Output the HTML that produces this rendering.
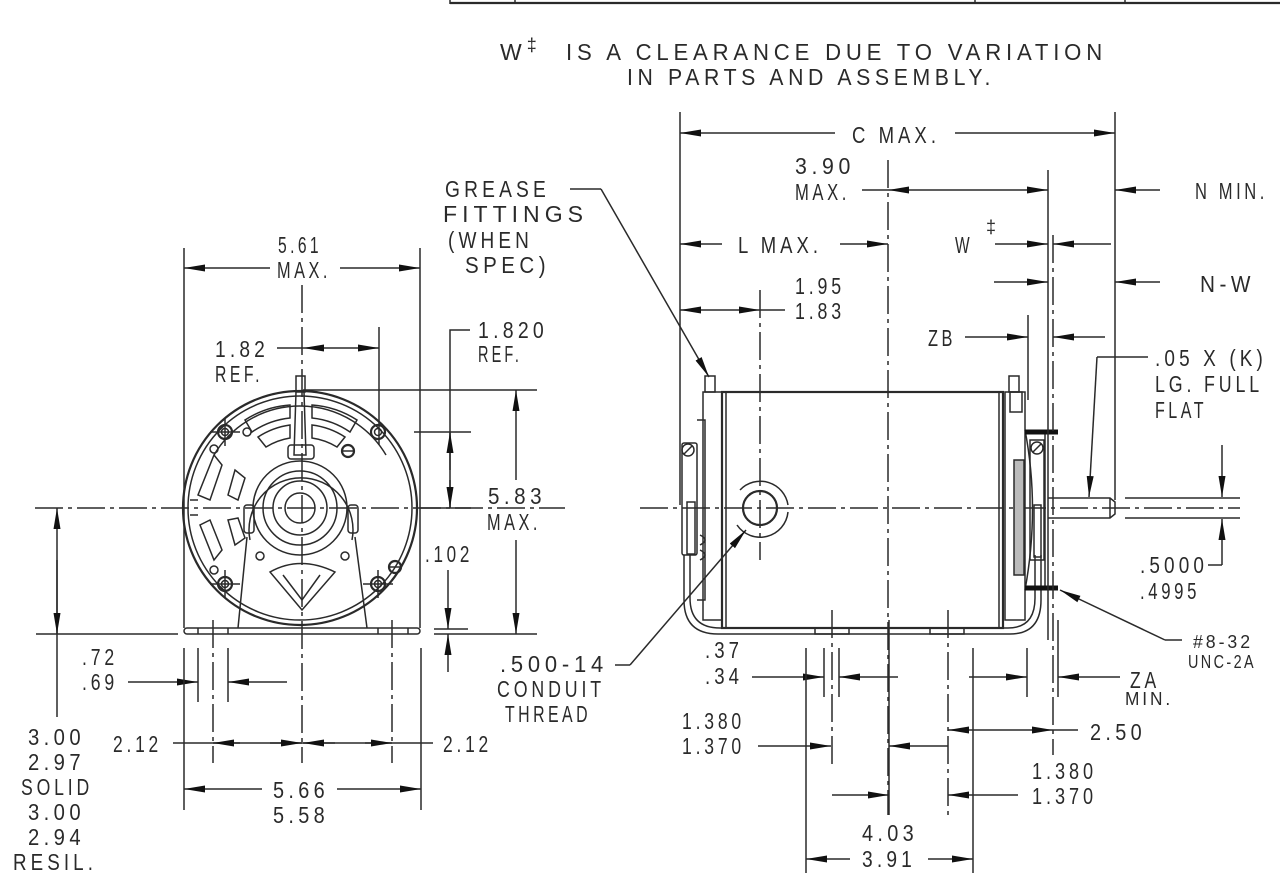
<!DOCTYPE html>
<html><head><meta charset="utf-8"><style>
html,body{margin:0;padding:0;background:#fff;}
svg{display:block;}
text{font-family:"Liberation Sans",sans-serif;font-size:23px;fill:#2a2a2a;letter-spacing:5px;}
.s{font-size:18px;letter-spacing:3px;}
line,path,rect,circle,polyline,ellipse{stroke:#2a2a2a;stroke-width:1.5;fill:none;}
.a{marker-end:url(#m);}
.b{marker-start:url(#ms);marker-end:url(#m);}
.c{stroke-dasharray:28 5 4 5;}
.t{stroke-width:2.2;}
.k{stroke-width:5;stroke:#111;}
</style></head><body>
<svg width="1280" height="873" viewBox="0 0 1280 873" xmlns="http://www.w3.org/2000/svg">
<defs>
<marker id="m" markerWidth="22" markerHeight="8" refX="21" refY="4" orient="auto" markerUnits="userSpaceOnUse"><path d="M0,0.5 L21,4 L0,7.5z" style="fill:#111;stroke:none"/></marker>
<marker id="ms" markerWidth="22" markerHeight="8" refX="21" refY="4" orient="auto-start-reverse" markerUnits="userSpaceOnUse"><path d="M0,0.5 L21,4 L0,7.5z" style="fill:#111;stroke:none"/></marker>
</defs>

<line x1="450" y1="3" x2="1280" y2="3" class="t"/>
<line x1="450" y1="0" x2="450" y2="4"/><line x1="515" y1="0" x2="515" y2="4"/>
<line x1="975" y1="0" x2="975" y2="4"/><line x1="1125" y1="0" x2="1125" y2="4"/>

<text x="500" y="60">W<tspan class="s" dy="-9">‡</tspan></text>
<text x="566" y="60" textLength="541" lengthAdjust="spacingAndGlyphs">IS A CLEARANCE DUE TO VARIATION</text>
<text x="627" y="85" textLength="368" lengthAdjust="spacingAndGlyphs">IN PARTS AND ASSEMBLY.</text>

<!-- FRONT VIEW -->
<line x1="35" y1="508" x2="565" y2="508" class="c"/>
<line x1="302" y1="285" x2="302" y2="763" class="c"/>
<circle cx="300" cy="508" r="117" class="t"/>
<circle cx="300" cy="508" r="112"/>
<path d="M214,455 A100,100 0 0 1 386,455"/>
<path d="M245,420 A95,95 0 0 1 290,405 L290,418 A82,82 0 0 0 252,432 Z"/>
<path d="M312,405 A95,95 0 0 1 357,420 L350,432 A82,82 0 0 0 312,418 Z"/>
<path d="M258,437 A78,78 0 0 1 290,425 L290,438 A66,66 0 0 0 266,447 Z"/>
<path d="M312,425 A78,78 0 0 1 345,437 L337,447 A66,66 0 0 0 312,438 Z"/>
<path d="M214,455 L222,465 L210,500 L198,495 Z"/>
<path d="M210,520 L222,550 L214,560 L200,525 Z"/>
<path d="M235,470 L245,478 L238,500 L228,495 Z"/>
<path d="M228,520 L238,518 L245,538 L235,545 Z"/>
<line x1="190" y1="500" x2="198" y2="500"/><line x1="190" y1="515" x2="198" y2="515"/>
<path d="M238,628 L247,537 M367,628 L355,537"/>
<path d="M250,540 A52,52 0 1 1 352,540"/>
<rect x="244" y="505" width="10" height="28" rx="3"/><rect x="348" y="505" width="10" height="28" rx="3"/>
<rect x="184" y="628" width="236" height="6" rx="3"/>
<line x1="198" y1="628" x2="198" y2="634"/><line x1="228" y1="628" x2="228" y2="634"/>
<line x1="378" y1="628" x2="378" y2="634"/><line x1="408" y1="628" x2="408" y2="634"/>
<circle cx="300" cy="508" r="15"/><circle cx="300" cy="508" r="27"/><circle cx="300" cy="508" r="37"/><circle cx="300" cy="508" r="47"/>
<rect x="296" y="376" width="9" height="16"/>
<path d="M296,392 L294,455 L306,455 L304,392"/>
<rect x="288" y="445" width="26" height="14" rx="3"/>
<path d="M270,572 Q300,555 335,572 L302,610 Z"/>
<path d="M283,575 L302,600 L320,575"/>
<circle cx="260" cy="556" r="4"/><circle cx="345" cy="556" r="4"/>
<g>
<circle cx="225" cy="432" r="7" class="t"/><circle cx="225" cy="432" r="3.5"/>
<circle cx="378" cy="432" r="7" class="t"/><circle cx="378" cy="432" r="3.5"/>
<circle cx="225" cy="584" r="7" class="t"/><circle cx="225" cy="584" r="3.5"/>
<circle cx="378" cy="584" r="7" class="t"/><circle cx="378" cy="584" r="3.5"/>
<circle cx="348" cy="451" r="6" class="t"/><line x1="342" y1="451" x2="354" y2="451"/>
<circle cx="395" cy="567" r="6" class="t"/><line x1="389" y1="567" x2="401" y2="567"/>
<circle cx="247" cy="432" r="4"/><circle cx="214" cy="449" r="4"/><circle cx="214" cy="570" r="4"/>
<line x1="210" y1="432" x2="240" y2="432"/><line x1="225" y1="418" x2="225" y2="446"/>
<line x1="210" y1="584" x2="240" y2="584"/><line x1="225" y1="570" x2="225" y2="598"/>
<line x1="363" y1="584" x2="393" y2="584"/><line x1="378" y1="570" x2="378" y2="598"/>
</g>

<line x1="184" y1="248" x2="184" y2="628"/><line x1="420" y1="248" x2="420" y2="628"/>
<line x1="270" y1="268" x2="184" y2="268" class="a"/><line x1="340" y1="268" x2="420" y2="268" class="a"/>
<text x="278" y="253" textLength="44" lengthAdjust="spacingAndGlyphs">5.61</text>
<text x="277" y="278" textLength="54" lengthAdjust="spacingAndGlyphs">MAX.</text>

<text x="215" y="357" textLength="54" lengthAdjust="spacingAndGlyphs">1.82</text>
<text x="215" y="382" textLength="48" lengthAdjust="spacingAndGlyphs">REF.</text>
<line x1="277" y1="348" x2="303" y2="348"/>
<line x1="303" y1="348" x2="379" y2="348" class="b"/>
<line x1="379" y1="327" x2="379" y2="445"/>

<text x="478" y="338" textLength="70" lengthAdjust="spacingAndGlyphs">1.820</text>
<text x="478" y="362" textLength="44" lengthAdjust="spacingAndGlyphs">REF.</text>
<polyline points="470,330 450,330 450,508"/>
<line x1="450" y1="470" x2="450" y2="432" class="a"/>
<line x1="450" y1="480" x2="450" y2="508" class="a"/>
<line x1="414" y1="432" x2="471" y2="432"/>
<line x1="303" y1="390" x2="537" y2="390"/>
<line x1="420" y1="508" x2="471" y2="508"/>

<line x1="516" y1="480" x2="516" y2="390" class="a"/>
<line x1="516" y1="540" x2="516" y2="634" class="a"/>
<text x="488" y="504" textLength="58" lengthAdjust="spacingAndGlyphs">5.83</text>
<text x="487" y="530" textLength="54" lengthAdjust="spacingAndGlyphs">MAX.</text>

<line x1="434" y1="634" x2="537" y2="634"/><line x1="434" y1="629" x2="468" y2="629"/>
<text x="425" y="562" textLength="48" lengthAdjust="spacingAndGlyphs">.102</text>
<line x1="448" y1="570" x2="448" y2="629" class="a"/>
<line x1="448" y1="672" x2="448" y2="634" class="a"/>

<line x1="36" y1="634" x2="178" y2="634"/>
<line x1="57" y1="717" x2="57" y2="508" class="a"/>
<line x1="57" y1="560" x2="57" y2="634" class="a"/>
<text x="28" y="745" textLength="57" lengthAdjust="spacingAndGlyphs">3.00</text>
<text x="28" y="770" textLength="57" lengthAdjust="spacingAndGlyphs">2.97</text>
<text x="21" y="795" textLength="72" lengthAdjust="spacingAndGlyphs">SOLID</text>
<text x="28" y="820" textLength="57" lengthAdjust="spacingAndGlyphs">3.00</text>
<text x="28" y="845" textLength="57" lengthAdjust="spacingAndGlyphs">2.94</text>
<text x="13" y="870" textLength="84" lengthAdjust="spacingAndGlyphs">RESIL.</text>

<text x="82" y="665" textLength="36" lengthAdjust="spacingAndGlyphs">.72</text>
<text x="82" y="690" textLength="36" lengthAdjust="spacingAndGlyphs">.69</text>
<line x1="128" y1="682" x2="198" y2="682" class="a"/>
<line x1="287" y1="682" x2="228" y2="682" class="a"/>
<line x1="198" y1="648" x2="198" y2="702"/><line x1="228" y1="648" x2="228" y2="702"/>
<line x1="184" y1="648" x2="184" y2="810"/><line x1="421" y1="648" x2="421" y2="810"/>
<line x1="213" y1="620" x2="213" y2="763" class="c"/><line x1="392" y1="620" x2="392" y2="763" class="c"/>

<text x="113" y="752" textLength="49" lengthAdjust="spacingAndGlyphs">2.12</text>
<text x="443" y="752" textLength="49" lengthAdjust="spacingAndGlyphs">2.12</text>
<line x1="173" y1="743" x2="433" y2="743"/>
<line x1="240" y1="743" x2="213" y2="743" class="a"/>
<line x1="270" y1="743" x2="302" y2="743" class="a"/>
<line x1="335" y1="743" x2="303" y2="743" class="a"/>
<line x1="365" y1="743" x2="392" y2="743" class="a"/>

<line x1="262" y1="789" x2="184" y2="789" class="a"/>
<line x1="337" y1="789" x2="421" y2="789" class="a"/>
<text x="273" y="798" textLength="56" lengthAdjust="spacingAndGlyphs">5.66</text>
<text x="273" y="823" textLength="56" lengthAdjust="spacingAndGlyphs">5.58</text>

<text x="445" y="197" textLength="105" lengthAdjust="spacingAndGlyphs">GREASE</text>
<text x="443" y="222" textLength="145" lengthAdjust="spacingAndGlyphs">FITTINGS</text>
<text x="448" y="248" textLength="85" lengthAdjust="spacingAndGlyphs">(WHEN</text>
<text x="465" y="273" textLength="85" lengthAdjust="spacingAndGlyphs">SPEC)</text>
<polyline points="570,189 601,189"/>
<line x1="601" y1="189" x2="709" y2="377" class="a"/>

<!-- SIDE VIEW -->
<line x1="640" y1="508" x2="1240" y2="508" class="c"/>
<line x1="888" y1="160" x2="888" y2="815" class="c"/>
<rect x="722" y="392" width="281" height="236" class="t"/>
<line x1="726" y1="392" x2="726" y2="628"/><line x1="999" y1="392" x2="999" y2="628"/>
<rect x="703" y="392" width="19" height="228"/>
<rect x="705" y="376" width="10" height="16"/>
<rect x="1005" y="392" width="20" height="228"/>
<rect x="1009" y="376" width="10" height="16"/>
<rect x="1010" y="392" width="12" height="20"/>
<rect x="682" y="443" width="15" height="112" rx="2"/>
<circle cx="688" cy="450" r="6"/><line x1="684" y1="454" x2="692" y2="446"/>
<rect x="687" y="502" width="8" height="52"/>
<path d="M697,420 L705,420 L705,600 L697,600"/>
<path d="M700,535 q10,5 0,10 M700,550 q10,5 0,10"/>
<path d="M684,555 L684,600 Q684,634 718,634 L1010,634 Q1041,634 1041,600 L1041,555"/>
<path d="M690,555 L690,598 Q690,628 720,628 L1008,628 Q1035,628 1035,598 L1035,555"/>
<rect x="815" y="628" width="34" height="6"/><rect x="930" y="628" width="34" height="6"/>
<rect x="1014" y="460" width="10" height="115" style="fill:#bbb"/>
<path d="M1025,430 Q1040,508 1025,590 M1045,430 L1045,590"/>
<rect x="1030" y="440" width="14" height="120"/>
<circle cx="1037" cy="448" r="6"/><line x1="1033" y1="452" x2="1041" y2="444"/>
<rect x="1034" y="505" width="7" height="52"/>
<line x1="1025" y1="432" x2="1058" y2="432" class="k"/>
<line x1="1025" y1="588" x2="1058" y2="588" class="k"/>
<path d="M1048,498 L1110,498 L1115,502 L1115,514 L1110,518 L1048,518"/>
<line x1="1110" y1="498" x2="1110" y2="518"/>
<line x1="1125" y1="498" x2="1240" y2="498"/><line x1="1125" y1="518" x2="1240" y2="518"/>
<circle cx="760" cy="508" r="17" class="t"/>
<path d="M740,490 A28,28 0 0 1 788,505 M788,512 A28,28 0 0 1 737,525"/>
<path d="M748,496 A17,17 0 0 1 772,496 M772,520 A17,17 0 0 1 750,522"/>
<line x1="760" y1="290" x2="760" y2="560" class="c"/>

<line x1="680" y1="112" x2="680" y2="505"/>
<line x1="1115" y1="112" x2="1115" y2="500"/>
<line x1="835" y1="133" x2="680" y2="133" class="a"/>
<line x1="955" y1="133" x2="1115" y2="133" class="a"/>
<text x="852" y="143" textLength="88" lengthAdjust="spacingAndGlyphs">C MAX.</text>

<text x="795" y="174" textLength="60" lengthAdjust="spacingAndGlyphs">3.90</text>
<text x="795" y="200" textLength="55" lengthAdjust="spacingAndGlyphs">MAX.</text>
<line x1="862" y1="190" x2="888" y2="190"/>
<line x1="888" y1="190" x2="1048" y2="190" class="b"/>
<line x1="1048" y1="170" x2="1048" y2="640"/>
<line x1="1160" y1="190" x2="1115" y2="190" class="a"/>
<text x="1195" y="199" textLength="73" lengthAdjust="spacingAndGlyphs">N MIN.</text>

<line x1="722" y1="244" x2="680" y2="244" class="a"/>
<line x1="840" y1="244" x2="888" y2="244" class="a"/>
<text x="738" y="253" textLength="84" lengthAdjust="spacingAndGlyphs">L MAX.</text>

<text x="955" y="253" textLength="18" lengthAdjust="spacingAndGlyphs">W</text><text x="986" y="233" class="s">‡</text>
<line x1="995" y1="244" x2="1048" y2="244" class="a"/>
<line x1="1111" y1="244" x2="1053" y2="244" class="a"/>
<line x1="1053" y1="235" x2="1053" y2="755" class="c"/>

<line x1="994" y1="282" x2="1048" y2="282" class="a"/>
<line x1="1160" y1="282" x2="1115" y2="282" class="a"/>
<text x="1200" y="292" textLength="55" lengthAdjust="spacingAndGlyphs">N-W</text>

<text x="795" y="294" textLength="50" lengthAdjust="spacingAndGlyphs">1.95</text>
<text x="795" y="319" textLength="50" lengthAdjust="spacingAndGlyphs">1.83</text>
<line x1="680" y1="310" x2="760" y2="310" class="b"/>
<line x1="760" y1="310" x2="785" y2="310"/>

<text x="928" y="346" textLength="28" lengthAdjust="spacingAndGlyphs">ZB</text>
<line x1="965" y1="337" x2="1028" y2="337" class="a"/>
<line x1="1028" y1="315" x2="1028" y2="400"/>
<line x1="1105" y1="337" x2="1053" y2="337" class="a"/>

<text x="1155" y="366" textLength="112" lengthAdjust="spacingAndGlyphs">.05 X (K)</text>
<text x="1155" y="392" textLength="108" lengthAdjust="spacingAndGlyphs">LG. FULL</text>
<text x="1155" y="418" textLength="52" lengthAdjust="spacingAndGlyphs">FLAT</text>
<polyline points="1148,357 1097,357"/>
<line x1="1097" y1="357" x2="1089" y2="497" class="a"/>

<line x1="1222" y1="445" x2="1222" y2="497" class="a"/>
<line x1="1222" y1="565" x2="1222" y2="519" class="a"/>
<line x1="1222" y1="565" x2="1208" y2="565"/>
<text x="1140" y="573" textLength="68" lengthAdjust="spacingAndGlyphs">.5000</text>
<text x="1140" y="599" textLength="60" lengthAdjust="spacingAndGlyphs">.4995</text>

<line x1="1165" y1="640" x2="1060" y2="590" class="a"/>
<line x1="1165" y1="640" x2="1182" y2="640"/>
<text x="1193" y="648" class="s" textLength="60" lengthAdjust="spacingAndGlyphs">#8-32</text>
<text x="1188" y="668" class="s" textLength="68" lengthAdjust="spacingAndGlyphs">UNC-2A</text>

<text x="500" y="672" textLength="108" lengthAdjust="spacingAndGlyphs">.500-14</text>
<text x="497" y="697" textLength="108" lengthAdjust="spacingAndGlyphs">CONDUIT</text>
<text x="505" y="722" textLength="86" lengthAdjust="spacingAndGlyphs">THREAD</text>
<polyline points="615,665 630,665"/>
<line x1="630" y1="665" x2="746" y2="530" class="a"/>

<text x="705" y="658" textLength="38" lengthAdjust="spacingAndGlyphs">.37</text>
<text x="705" y="684" textLength="38" lengthAdjust="spacingAndGlyphs">.34</text>
<line x1="752" y1="677" x2="824" y2="677" class="a"/>
<line x1="898" y1="677" x2="839" y2="677" class="a"/>
<line x1="824" y1="648" x2="824" y2="697"/><line x1="839" y1="648" x2="839" y2="697"/>
<line x1="832" y1="610" x2="832" y2="767" class="c"/>
<line x1="969" y1="677" x2="1027" y2="677" class="a"/>
<line x1="1027" y1="648" x2="1027" y2="697"/>
<line x1="1058" y1="620" x2="1058" y2="697"/>
<line x1="1120" y1="677" x2="1058" y2="677" class="a"/>
<text x="1130" y="688" textLength="30" lengthAdjust="spacingAndGlyphs">ZA</text>
<text x="1125" y="705" class="s" textLength="48" lengthAdjust="spacingAndGlyphs">MIN.</text>

<line x1="806" y1="648" x2="806" y2="873"/>
<line x1="889" y1="620" x2="889" y2="815"/>
<line x1="948" y1="610" x2="948" y2="815" class="c"/>
<line x1="973" y1="648" x2="973" y2="873"/>

<text x="682" y="729" textLength="63" lengthAdjust="spacingAndGlyphs">1.380</text>
<text x="682" y="754" textLength="63" lengthAdjust="spacingAndGlyphs">1.370</text>
<line x1="758" y1="746" x2="831" y2="746" class="a"/>
<line x1="948" y1="746" x2="889" y2="746" class="a"/>

<line x1="948" y1="730" x2="1053" y2="730" class="b"/>
<line x1="1053" y1="730" x2="1078" y2="730"/>
<text x="1090" y="740" textLength="56" lengthAdjust="spacingAndGlyphs">2.50</text>

<line x1="832" y1="795" x2="889" y2="795" class="a"/>
<line x1="1018" y1="795" x2="948" y2="795" class="a"/>
<text x="1032" y="779" textLength="65" lengthAdjust="spacingAndGlyphs">1.380</text>
<text x="1032" y="804" textLength="65" lengthAdjust="spacingAndGlyphs">1.370</text>

<text x="862" y="841" textLength="56" lengthAdjust="spacingAndGlyphs">4.03</text>
<text x="862" y="867" textLength="54" lengthAdjust="spacingAndGlyphs">3.91</text>
<line x1="850" y1="859" x2="806" y2="859" class="a"/>
<line x1="928" y1="859" x2="973" y2="859" class="a"/>
</svg>
</body></html>
